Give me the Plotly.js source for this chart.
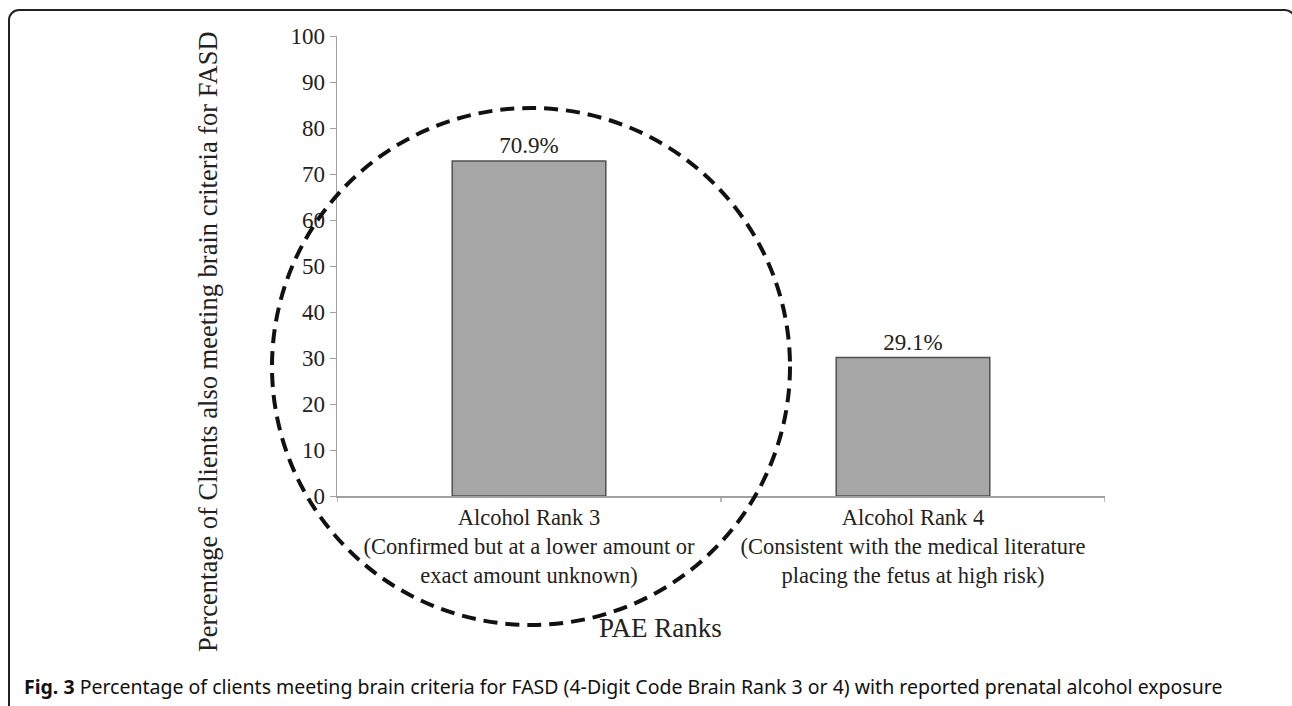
<!DOCTYPE html>
<html><head><meta charset="utf-8">
<script src="https://cdn.plot.ly/plotly-3.0.1.min.js"></script>
<style>
html,body{margin:0;padding:0;background:#fff;}
#wrap{position:relative;width:1292px;height:706px;overflow:hidden;}
#chart{width:1292px;height:706px;}
#frame{position:absolute;left:8px;top:9px;width:1288px;height:740px;border:2px solid #222;border-radius:11px;pointer-events:none;box-sizing:border-box;}
</style></head>
<body><div id="wrap"><div id="chart"></div><div id="frame"></div></div>
<script>
const categories = ["Alcohol Rank 3<br>(Confirmed but at a lower amount or<br>exact amount unknown)",
                    "Alcohol Rank 4<br>(Consistent with the medical literature<br>placing the fetus at high risk)"];
const values = [72.8, 30.1];
const valueLabels = ["70.9%", "29.1%"];
const yTicks = [0,10,20,30,40,50,60,70,80,90,100];
const yTitle = "Percentage of Clients also meeting brain criteria for FASD";
const xTitle = "PAE Ranks";
const caption = "<b>Fig. 3</b> Percentage of clients meeting brain criteria for FASD (4-Digit Code Brain Rank 3 or 4) with reported prenatal alcohol exposure";

const serif = "Liberation Serif, Times New Roman, serif";
const L = 337, R = 1105, T = 36, B = 496;
const px = x => (x - L) / (R - L);
const py = y => (B - y) / (B - T);

const trace = {
  type: "bar", x: [0, 1], y: values, width: 0.4,
  marker: {color: "#a6a6a6", line: {color: "#505050", width: 1.5}},
  text: valueLabels, textposition: "outside", cliponaxis: false,
  textfont: {family: serif, size: 23, color: "#222"},
  hoverinfo: "skip"
};

const layout = {
  width: 1292, height: 706,
  margin: {l: L, r: 1292 - R, t: T, b: 706 - B},
  paper_bgcolor: "#fff", plot_bgcolor: "#fff",
  showlegend: false,
  font: {family: serif, color: "#222"},
  xaxis: {
    range: [-0.5, 1.5], tickvals: [0, 1], ticktext: categories,
    showline: true, linecolor: "#a0a0a0", linewidth: 1.5,
    ticks: "", showgrid: false, zeroline: false,
    tickfont: {family: serif, size: 22.5, color: "#222"}
  },
  yaxis: {
    range: [0, 100], tickvals: yTicks, ticks: "outside", ticklen: 6, tickcolor: "#a0a0a0",
    showline: true, linecolor: "#a0a0a0", linewidth: 1.5,
    showgrid: false, zeroline: false,
    tickfont: {family: serif, size: 23, color: "#222"}
  },
  shapes: [
    ...[-0.5, 0.5, 1.5].map(v => ({type: "line", xref: "x", yref: "paper", x0: v, x1: v, y0: 0, y1: -0.013, line: {color: "#a0a0a0", width: 1.5}})),
    {type: "circle", xref: "paper", yref: "paper",
     x0: px(272), x1: px(790), y0: py(625), y1: py(108),
     line: {color: "#111", width: 4, dash: "14px,8px"}}
  ],
  annotations: [
    {text: yTitle, textangle: -90, xref: "paper", yref: "paper", x: px(208), y: py(342),
     xanchor: "center", yanchor: "middle",
     showarrow: false, font: {family: serif, size: 26.5, color: "#222"}},
    {text: xTitle, xref: "paper", yref: "paper", x: px(660), y: py(628),
     xanchor: "center", yanchor: "middle",
     showarrow: false, font: {family: serif, size: 27, color: "#222"}},
    {text: caption, xref: "paper", yref: "paper", x: px(22), y: py(686), xanchor: "left", yanchor: "middle",
     showarrow: false, font: {family: "Noto Sans, sans-serif", size: 19.5, color: "#111"}}
  ]
};

Plotly.newPlot("chart", [trace], layout, {staticPlot: true, displayModeBar: false});
</script></body></html>
